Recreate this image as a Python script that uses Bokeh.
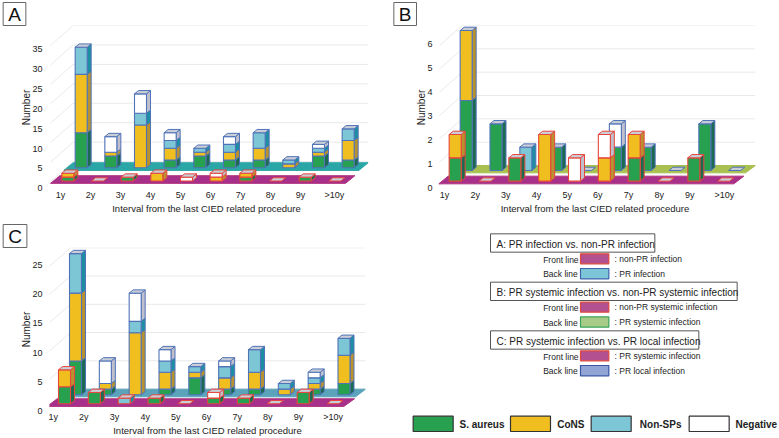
from bokeh.plotting import figure
from bokeh.layouts import column, row
from bokeh.models import (ColumnDataSource, Range1d, LinearAxis, FixedTicker, Title)
from bokeh.core.properties import value
from bokeh.embed import file_html
from bokeh.resources import INLINE

CATEGORIES = ["1y", "2y", "3y", "4y", "5y", "6y", "7y", "8y", "9y", ">10y"]
ORGANISMS = ["S. aureus", "CoNS", "Non-SPs", "Negative"]

# Panel A (back: PR infection, front: non-PR infection)
A_BACK_SAUREUS = [9, 3, 0, 2, 3, 2, 2, 0, 3, 2]
A_BACK_CONS = [15, 1, 11, 3, 1, 2, 3, 1, 1, 5]
A_BACK_NONSP = [7, 0, 3, 2, 1, 2, 4, 1, 1, 3]
A_BACK_NEG = [0, 4, 5, 2, 0, 2, 0, 0, 1, 0]
A_FRONT_SAUREUS = [1, 0, 1, 0, 0, 0, 1, 0, 1, 0]
A_FRONT_CONS = [1, 0, 0, 2, 0, 1, 1, 0, 0, 0]
A_FRONT_NONSP = [0, 0, 0, 0, 0, 0, 0, 0, 0, 0]
A_FRONT_NEG = [0, 0, 0, 0, 1, 1, 0, 0, 0, 0]
A_YTICKS = [0, 5, 10, 15, 20, 25, 30, 35]

# Panel B (back: PR systemic infection, front: non-PR systemic infection)
B_BACK_SAUREUS = [3, 2, 0, 1, 0, 1, 1, 0, 2, 0]
B_BACK_CONS = [3, 0, 0, 0, 0, 0, 0, 0, 0, 0]
B_BACK_NONSP = [0, 0, 1, 0, 0, 0, 0, 0, 0, 0]
B_BACK_NEG = [0, 0, 0, 0, 0, 1, 0, 0, 0, 0]
B_FRONT_SAUREUS = [1, 0, 1, 0, 0, 0, 1, 0, 1, 0]
B_FRONT_CONS = [1, 0, 0, 2, 0, 1, 1, 0, 0, 0]
B_FRONT_NONSP = [0, 0, 0, 0, 0, 0, 0, 0, 0, 0]
B_FRONT_NEG = [0, 0, 0, 0, 1, 1, 0, 0, 0, 0]
B_YTICKS = [0, 1, 2, 3, 4, 5, 6]

# Panel C (back: PR local infection, front: PR systemic infection)
C_BACK_SAUREUS = [6, 1, 0, 1, 3, 1, 1, 0, 1, 2]
C_BACK_CONS = [12, 1, 11, 3, 1, 2, 3, 1, 1, 5]
C_BACK_NONSP = [7, 0, 2, 2, 1, 2, 4, 1, 1, 3]
C_BACK_NEG = [0, 4, 5, 2, 0, 1, 0, 0, 1, 0]
C_FRONT_SAUREUS = [3, 2, 0, 1, 0, 1, 1, 0, 2, 0]
C_FRONT_CONS = [3, 0, 0, 0, 0, 0, 0, 0, 0, 0]
C_FRONT_NONSP = [0, 0, 1, 0, 0, 0, 0, 0, 0, 0]
C_FRONT_NEG = [0, 0, 0, 0, 0, 1, 0, 0, 0, 0]
C_YTICKS = [0, 5, 10, 15, 20, 25]

XLABEL = "Interval from the last CIED related procedure"
YLABEL = "Number"

FONT = "Liberation Sans"
SPLIT_X, SPLIT_Y = 392, 219
PAGE_W, PAGE_H = 779, 438

FACE = ["#27a04f", "#f0bf1f", "#7cc6d6", "#ffffff"]
SIDE = ["#1c6b50", "#b8922e", "#1d8fa3", "#bfc0cc"]
TOP = "#c9cdd6"
BACK_STROKE = "#4f72b8"
FRONT_STROKE = "#e8453c"
GRID = "#e9e9e9"
DEPTH_X, DEPTH_Y = 4.0, 3.3
BAR_W = 12.0


def make_panel(letter, back, front, yticks, box, g):
    x0, x1, y0, y1 = box
    L, R, T, B = g["frame"]
    ox, oy = g["off"]
    Z = lambda v: v / 3.0
    unit = g["unit"] / 3.0
    sp = g["sp"] / 3.0
    base_f = oy + Z(g["base_f"])
    base_b = oy + Z(g["base_b"])
    cx0 = ox + Z(g["xf"]) + BAR_W / 2
    cb0 = ox + Z(g["xb"]) + BAR_W / 2
    X = lambda px: (px - cx0) / sp
    Y = lambda py: (base_f - py) / unit

    x_range = Range1d(X(L), X(R))
    y_range = Range1d(Y(B), Y(T))
    p = figure(width=x1 - x0, height=y1 - y0,
               x_range=x_range, y_range=y_range, x_axis_location=None, y_axis_location=None,
               output_backend="svg", toolbar_location=None,
               min_border_left=round(L - x0), min_border_right=round(x1 - R),
               min_border_top=round(T - y0), min_border_bottom=round(y1 - B),
               outline_line_color=None, background_fill_color=None, border_fill_color="white")
    p.grid.visible = False

    l0 = oy + Z(g["ylab0"])
    ls = Z(g["ylabstep"])
    p.extra_y_ranges["num"] = Range1d((l0 - B) / ls, (l0 - T) / ls)
    yax = LinearAxis(y_range_name="num", ticker=FixedTicker(ticks=yticks), axis_label=YLABEL,
                     axis_line_color=None, major_tick_line_color=None, minor_tick_line_color=None,
                     major_tick_out=0, major_tick_in=0, minor_tick_out=0, minor_tick_in=0,
                     major_label_standoff=g["ystand"], axis_label_standoff=-3,
                     major_label_text_font=FONT, major_label_text_font_size="9px",
                     major_label_text_color="#222222",
                     axis_label_text_font=FONT, axis_label_text_font_size="10px",
                     axis_label_text_font_style="normal", axis_label_text_color="#222222")
    p.add_layout(yax, "left")

    lab0 = ox + Z(g["xlab0"])
    labs = Z(g["xlabstep"])
    p.extra_x_ranges["cat"] = Range1d((L - lab0) / labs, (R - lab0) / labs)
    ticks = list(range(9)) + [9.13]
    xax = LinearAxis(x_range_name="cat", ticker=FixedTicker(ticks=ticks),
                     major_label_overrides={t: c for t, c in zip(ticks, CATEGORIES)},
                     axis_label=XLABEL, axis_line_color=None, major_tick_line_color=None,
                     major_tick_out=0, major_tick_in=0, minor_tick_out=0, minor_tick_in=0,
                     minor_tick_line_color=None, major_label_standoff=0, axis_label_standoff=0,
                     major_label_text_font=FONT, major_label_text_font_size="9px",
                     major_label_text_color="#222222",
                     axis_label_text_font=FONT, axis_label_text_font_size="9.5px",
                     axis_label_text_font_style="normal", axis_label_text_color="#222222")
    p.add_layout(xax, "below")

    gx = ox + Z(g["wall_x"])
    gxr = ox + Z(g["wall_r"])
    gys = [oy + Z(g["wall_top"] + k * g["wall_step"]) for k in range(g["wall_n"])]
    wdx, wdy = Z(g["wall_dx"]), Z(g["wall_dy"])
    p.multi_line(xs=[[X(gx - wdx), X(gx), X(gxr)] for _ in gys],
                 ys=[[Y(y + wdy), Y(y), Y(y)] for y in gys], line_color=GRID, line_width=1)

    def floor(pts, color, line=None):
        p.patch([X(ox + Z(a)) for a, _ in pts], [Y(oy + Z(b)) for _, b in pts],
                fill_color=color, line_color=line or color, line_width=1)

    floor(g["back_floor"], g["back_color"])

    def bars(series, centre0, base, stroke):
        off = (base_f - base) / unit
        hw = BAR_W / 2 / sp
        ax = DEPTH_X / sp
        ay = DEPTH_Y / unit
        q = dict(l=[], r=[], b=[], t=[], c=[])
        sx, sy, sc, tx, ty = [], [], [], [], []
        for i in range(len(CATEGORIES)):
            cx = (centre0 - cx0) / sp + i
            cum = off
            for k in range(4):
                v = series[k][i]
                if v:
                    q["l"].append(cx - hw); q["r"].append(cx + hw)
                    q["b"].append(cum); q["t"].append(cum + v); q["c"].append(FACE[k])
                    r = cx + hw
                    sx.append([r, r + ax, r + ax, r])
                    sy.append([cum, cum + ay, cum + v + ay, cum + v])
                    sc.append(SIDE[k])
                    cum += v
            tx.append([cx - hw, cx + hw, cx + hw + ax, cx - hw + ax])
            ty.append([cum, cum, cum + ay, cum + ay])
        p.patches(xs="x", ys="y", fill_color="c", line_color=stroke, line_width=1,
                  source=ColumnDataSource(dict(x=sx, y=sy, c=sc)))
        p.quad(left="l", right="r", bottom="b", top="t", fill_color="c", line_color=stroke,
               line_width=1.1, source=ColumnDataSource(q))
        p.patches(tx, ty, fill_color=TOP, line_color=stroke, line_width=1)

    bars(back, cb0, base_b, BACK_STROKE)
    floor(g["front_floor"], "#a6308a", "#b0307c")
    bars(front, cx0, base_f, FRONT_STROKE)

    bx0 = ox + Z(g["letter_x"])
    p.add_layout(Title(text=letter, align="left", offset=bx0 - L, standoff=0,
                       text_font="Liberation Sans", text_font_size="19px", text_font_style="normal",
                       text_color="#111111", border_line_color="#666666", border_line_width=1,
                       background_fill_color="white", padding=(5, 5, 1, 1)), "above")
    return p


GA = dict(off=(0, 0), frame=(44, 368, 25, 189.5), unit=11.7, sp=89, base_f=543, base_b=503, xf=184, xb=224,
          ylab0=565, ylabstep=59.7 / 5, xlab0=180, xlabstep=90, ystand=2,
          wall_x=218, wall_r=1105, wall_top=75, wall_step=58.5, wall_n=8, wall_dx=68, wall_dy=60,
          back_floor=[(190, 511), (1075, 511), (1103, 488), (218, 488)], back_color="#2aa6a6",
          front_floor=[(150, 550), (1035, 550), (1063, 527), (178, 527)], letter_x=8)
GB = dict(off=(390, 0), frame=(434, 755, 25, 189), unit=70, sp=89.5, base_f=542, base_b=510, xf=176, xb=209,
          ylab0=563, ylabstep=72, xlab0=162, xlabstep=92, ystand=2,
          wall_x=215, wall_r=1095, wall_top=75, wall_step=70, wall_n=7, wall_dx=68, wall_dy=60,
          back_floor=[(185, 517), (1065, 517), (1095, 495), (213, 495)], back_color="#a8c050",
          front_floor=[(145, 550), (1030, 550), (1060, 527), (173, 527)], letter_x=10)
GC = dict(off=(0, 220), frame=(49, 365, 247, 412.5), unit=17.1, sp=89.5, base_f=554, base_b=527, xf=174, xb=207,
          ylab0=575, ylabstep=88 / 5, xlab0=158, xlabstep=92, ystand=7,
          wall_x=210, wall_r=1095, wall_top=82, wall_step=85.5, wall_n=6, wall_dx=68, wall_dy=60,
          back_floor=[(180, 533), (1065, 533), (1095, 510), (210, 510)], back_color="#5aa3bb",
          front_floor=[(140, 562), (1030, 562), (1062, 539), (170, 539)], letter_x=8)

pa = make_panel("A", [A_BACK_SAUREUS, A_BACK_CONS, A_BACK_NONSP, A_BACK_NEG],
                [A_FRONT_SAUREUS, A_FRONT_CONS, A_FRONT_NONSP, A_FRONT_NEG], A_YTICKS,
                (0, SPLIT_X, 0, SPLIT_Y), GA)
pb = make_panel("B", [B_BACK_SAUREUS, B_BACK_CONS, B_BACK_NONSP, B_BACK_NEG],
                [B_FRONT_SAUREUS, B_FRONT_CONS, B_FRONT_NONSP, B_FRONT_NEG], B_YTICKS,
                (SPLIT_X, PAGE_W, 0, SPLIT_Y), GB)
pc = make_panel("C", [C_BACK_SAUREUS, C_BACK_CONS, C_BACK_NONSP, C_BACK_NEG],
                [C_FRONT_SAUREUS, C_FRONT_CONS, C_FRONT_NONSP, C_FRONT_NEG], C_YTICKS,
                (0, SPLIT_X, SPLIT_Y, PAGE_H), GC)

pd = figure(width=PAGE_W - SPLIT_X, height=PAGE_H - SPLIT_Y,
            x_range=Range1d(SPLIT_X, PAGE_W), y_range=Range1d(PAGE_H, SPLIT_Y),
            x_axis_location=None, y_axis_location=None, output_backend="svg", toolbar_location=None,
            min_border=0, outline_line_color=None)
pd.grid.visible = False

KX, KY = 400, 225
kx = lambda v: KX + v / 3.0
ky = lambda v: KY + v / 3.0


def box(x0, x1, y0, y1, fill, line, w=1.0):
    pd.quad(left=[kx(x0)], right=[kx(x1)], top=[ky(y0)], bottom=[ky(y1)], fill_color=fill,
            line_color=line, line_width=w)


def txt(x, y, s, size, style="normal"):
    pd.text(x=[kx(x)], y=[ky(y)], text=[s], text_font=value(FONT), text_font_size=value(size),
            text_font_style=value(style), text_align="left", text_baseline="middle", text_color="#222222")


KEY_TITLES = ["A: PR infection vs. non-PR infection",
              "B: PR systemic infection vs. non-PR systemic infection",
              "C: PR systemic infection vs. PR local infection"]
KEY_FRONT = [": non-PR infection", ": non-PR systemic infection", ": PR systemic infection"]
KEY_BACK = [": PR infection", ": PR systemic infection", ": PR local infection"]
KEY_BACK_FILL = ["#7cc5d6", "#a8cc88", "#93a5d5"]
KEY_BACK_LINE = ["#3f63b0", "#3aa55a", "#3a55a5"]
TITLE_R = [763, 1010, 895]
TITLE_Y = [25, 170, 316]

for n in range(3):
    t = TITLE_Y[n]
    box(270, TITLE_R[n], t, t + 55, "white", "#555555")
    txt(288, t + 31, KEY_TITLES[n], "10px")
    txt(428, t + 77, "Front line", "8.5px")
    box(540, 625, t + 60, t + 90, "#b3508f", "#e04a3a", 1.2)
    txt(642, t + 75, KEY_FRONT[n], "8.5px")
    txt(428, t + 121, "Back line", "8.5px")
    box(540, 625, t + 104, t + 135, KEY_BACK_FILL[n], KEY_BACK_LINE[n], 1.2)
    txt(642, t + 120, KEY_BACK[n], "8.5px")

SW_X = [38, 330, 572, 866]
TX_X = [177, 470, 718, 1005]
for k, name in enumerate(ORGANISMS):
    box(SW_X[k], SW_X[k] + 120, 572, 618, FACE[k], "#333333", 1.2)
    txt(TX_X[k], 597, name, "10px", "bold")

layout = column(row(pa, pb), row(pc, column(pd)))
open("out.html", "w").write(file_html(layout, INLINE))
